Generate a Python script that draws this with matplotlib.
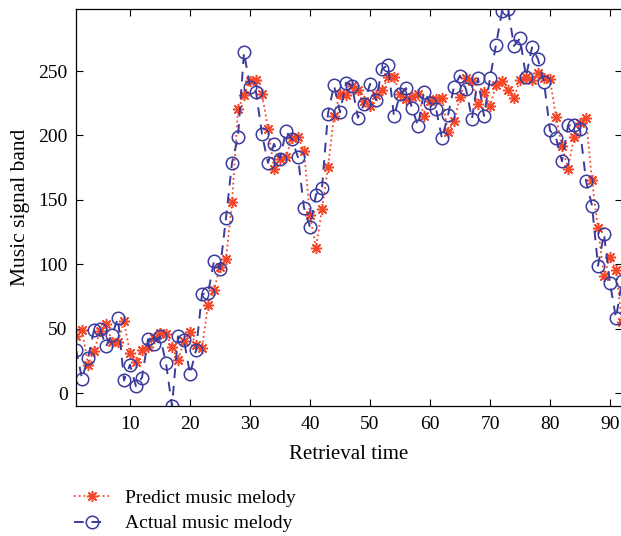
import matplotlib
matplotlib.use('Agg')
import matplotlib.pyplot as plt
import numpy as np

plt.rcParams['font.family'] = ['Liberation Serif', 'DejaVu Serif']

# retrieval time index 1..92
predict = [44.6, 49.5, 22.3, 32.7, 48.0, 54.0, 39.9, 40.0, 55.8, 31.3,
           24.3, 33.7, 36.0, 42.8, 46.8, 46.2, 36.2, 25.6, 40.8, 47.9,
           37.6, 35.2, 68.5, 80.3, 98.0, 104.0, 148.2, 220.3, 231.2, 242.3,
           243.1, 232.0, 205.3, 174.2, 182.0, 183.2, 198.3, 199.2, 187.9, 138.0,
           112.7, 143.0, 175.4, 215.3, 232.5, 231.5, 238.0, 235.5, 227.0, 223.0,
           231.5, 235.0, 245.0, 245.0, 232.2, 228.5, 229.5, 232.2, 215.0, 227.0,
           228.6, 229.4, 202.5, 211.1, 229.5, 244.2, 242.3, 224.2, 233.8, 222.9,
           239.0, 242.3, 235.3, 229.3, 242.9, 245.7, 243.1, 248.3, 244.9, 243.6,
           214.6, 191.8, 174.2, 199.0, 209.9, 213.8, 165.1, 128.0, 91.0, 105.5,
           95.5, 55.0]
actual = [34.0, 11.5, 27.2, 49.0, 50.2, 36.4, 45.6, 58.3, 10.0, 22.2,
          5.4, 12.3, 42.0, 38.5, 44.3, 23.5, -9.8, 44.2, 41.3, 14.9,
          33.3, 77.0, 77.5, 102.5, 96.4, 136.0, 178.8, 198.8, 264.4, 237.7,
          234.0, 200.9, 178.8, 193.5, 182.0, 203.2, 197.0, 183.0, 144.0, 129.1,
          154.2, 159.4, 217.0, 238.9, 218.0, 241.0, 238.4, 213.8, 224.2, 240.0,
          227.4, 251.4, 254.8, 214.8, 231.9, 236.7, 221.6, 207.3, 233.8, 225.5,
          220.8, 197.7, 215.6, 237.9, 246.4, 235.9, 213.0, 244.4, 215.1, 244.4,
          270.3, 296.2, 298.1, 269.5, 275.3, 245.7, 268.3, 259.2, 241.5, 203.9,
          198.2, 180.0, 207.8, 207.8, 204.7, 165.0, 145.6, 99.0, 123.6, 85.5,
          58.3, 87.0]
t = np.arange(1, len(actual) + 1)

x_ticks = [10, 20, 30, 40, 50, 60, 70, 80, 90]
y_ticks = [0, 50, 100, 150, 200, 250]

red = '#F5472A'
blue = '#3B3B9C'

fig = plt.figure(figsize=(6.21, 5.36), dpi=100)
ax = fig.add_axes([76 / 621, 130 / 536, 546 / 621, 397 / 536])

# asterisk marker like matlab '*'
ax.plot(t, predict, ':', color=red, lw=1.3, marker=(8, 2, 0), ms=8, mew=1.1,
        label='Predict music melody')
ax.plot(t, actual, '--', color=blue, lw=1.4, dashes=(5, 4), marker='o', ms=9,
        mfc='none', mew=1.1, label='Actual music melody')

ax.set_xlim(1, len(actual))
ax.set_ylim(min(actual + predict), max(actual + predict))
ax.set_xticks(x_ticks)
ax.set_yticks(y_ticks)
ax.tick_params(direction='in', top=True, right=True, labelsize=14, length=5,
               width=0.8)
ax.tick_params(axis='x', pad=7.5)
ax.tick_params(axis='y', pad=6)
for s in ax.spines.values():
    s.set_linewidth(0.9)

ax.set_xlabel('Retrieval time', fontsize=15, labelpad=8.5)
ax.set_ylabel('Music signal band', fontsize=15.5, labelpad=6)

fig.legend(loc='upper left', bbox_to_anchor=(74 / 621, 1 - 489 / 536),
           frameon=False, fontsize=14, numpoints=1, handlelength=1.8,
           handletextpad=0.8, labelspacing=0.42, borderpad=0, borderaxespad=0)

fig.savefig('out.png', dpi=100)
